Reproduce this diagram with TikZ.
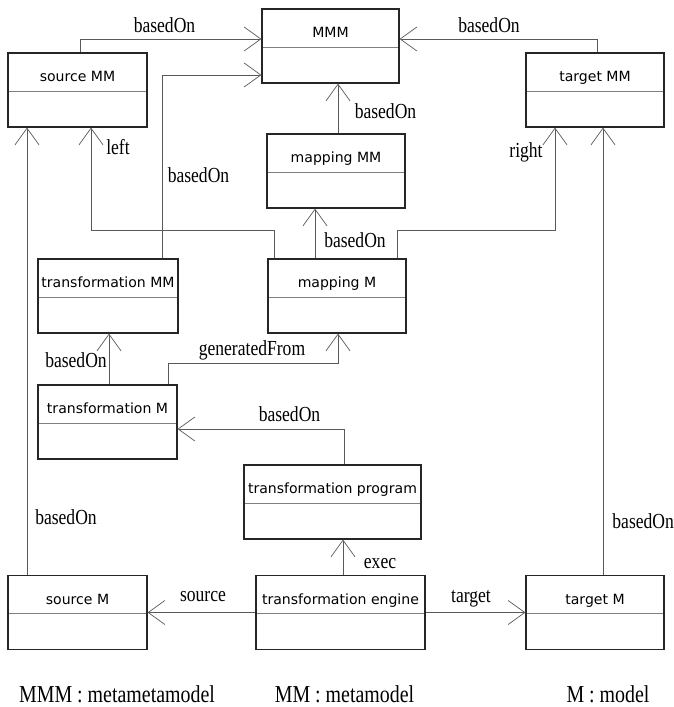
\documentclass[tikz,border=0pt]{standalone}
\usepackage{fontspec}
\setmainfont{Liberation Serif}
\newfontfamily\boxfont{DejaVu Sans}
\usetikzlibrary{arrows.meta}
\newcommand{\tall}[1]{\scalebox{1}[1.22]{#1}}

\begin{document}
\begin{tikzpicture}[x=0.03cm, y=-0.03cm,
    every node/.style={font=\fontsize{15}{17}\selectfont, inner sep=1pt},
    cls/.style={draw=black!85, line width=1pt, fill=white, minimum width=4.17cm,
        inner xsep=2pt, inner ysep=0pt, text height=0.86cm, text depth=1.36cm,
        font=\boxfont\fontsize{12}{14}\selectfont,
        path picture={\draw[black!50, line width=0.6pt]
            ([yshift=-1.14cm]path picture bounding box.north west) --
            ([yshift=-1.14cm]path picture bounding box.north east);}},
    conn/.style={draw=black!65, line width=0.6pt, -{Straight Barb[length=0.5cm, width=0.72cm]}},
    legend/.style={font=\fontsize{17}{19}\selectfont}]
                \useasboundingbox (0,0) rectangle (673,707);
                % classes
                \node[cls, minimum width=4.11cm] (mmm) at (330.5,46) {MMM};
                \node[cls] (srcmm) at (77.5,90) {source MM};
                \node[cls, minimum width=4.14cm] (tgtmm) at (595,90) {target MM};
                \node[cls, minimum width=4.14cm] (mapmm) at (336,171) {mapping MM};
                \node[cls, minimum width=4.14cm] (mapm) at (337,296) {mapping M};
                \node[cls, minimum width=4.2cm] (trmm) at (108,296) {transformation MM};
                \node[cls] (trm) at (107.5,422) {transformation M};
                \node[cls, minimum width=5.31cm] (trprog) at (332.5,502) {transformation program};
                \node[cls] (srcm) at (77.5,612.5) {source M};
                \node[cls, minimum width=5.07cm] (engine) at (340.5,612.5) {transformation engine};
                \node[cls, minimum width=4.14cm] (tgtm) at (595,612.5) {target M};
                % links
                \draw[conn] (srcmm.north -| 80,0) |- (mmm.west |- 0,39);
                \draw[conn] (trmm.north -| 162,0) |- (mmm.west |- 0,75);
                \draw[conn] (tgtmm.north -| 597,0) |- (mmm.east |- 0,39);
                \draw[conn] (mapmm.north -| 338,0) -- (mmm.south -| 338,0);
                \draw[conn] (mapm.north -| 315,0) -- (mapmm.south -| 315,0);
                \draw[conn] (mapm.north -| 274,0) -- (274,230) -| (srcmm.south -| 91,0);
                \draw[conn] (mapm.north -| 397,0) -- (397,230) -| (tgtmm.south -| 555,0);
                \draw[conn] (trm.north -| 168,0) -- (168,363) -| (mapm.south -| 338,0);
                \draw[conn] (trm.north -| 109,0) -- (trmm.south -| 109,0);
                \draw[conn] (trprog.north -| 344,0) |- (trm.east |- 0,429);
                \draw[conn] (srcm.north -| 27,0) -- (srcmm.south -| 27,0);
                \draw[conn] (tgtm.north -| 603,0) -- (tgtmm.south -| 603,0);
                \draw[conn] (engine.north -| 343,0) -- (trprog.south -| 343,0);
                \draw[conn] (engine.west) -- (srcm.east);
                \draw[conn] (engine.east) -- (tgtm.west);
                % labels
                \node (b1) at (164.5,25) {\tall{basedOn}};
                \node (b2) at (489,25) {\tall{basedOn}};
                \node (b3) at (385.5,111) {\tall{basedOn}};
                \node (left) at (118,147) {\tall{left}};
                \node (right) at (526,152) {\tall{right}};
                \node (b4) at (198.5,175) {\tall{basedOn}};
                \node (b5) at (355,240.5) {\tall{basedOn}};
                \node (b6) at (76,360.5) {\tall{basedOn}};
                \node (gen) at (252,350) {\tall{generatedFrom}};
                \node (b7) at (289.5,414.5) {\tall{basedOn}};
                \node (b8) at (66,517.5) {\tall{basedOn}};
                \node[anchor=west] (b9) at (611,521) {\tall{basedOn}};
                \node (exec) at (380,563.5) {\tall{exec}};
                \node (src) at (203,597) {\tall{source}};
                \node (tgt) at (471,599) {\tall{target}};
                % legend
                \node[legend] (lg1) at (117,694) {\tall{MMM : metametamodel}};
                \node[legend] (lg2) at (344.5,694) {\tall{MM : metamodel}};
                \node[legend] (lg3) at (608,694) {\tall{M : model}};
                \end{tikzpicture}
\end{document}
